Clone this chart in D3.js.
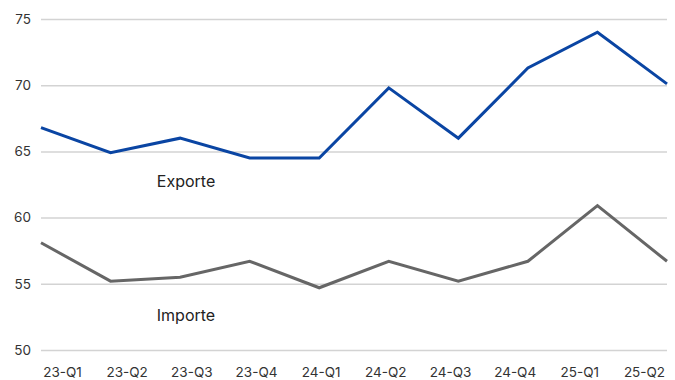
<!DOCTYPE html>
<html><head><meta charset="utf-8">
<script src="https://cdn.jsdelivr.net/npm/d3@7"></script>
<style>body{margin:0;background:#fff}svg{display:block;font-family:Inter, "Noto Sans", sans-serif}</style>
</head><body>
<svg id="c" width="675" height="380"></svg>
<script>
const categories = ["23-Q1","23-Q2","23-Q3","23-Q4","24-Q1","24-Q2","24-Q3","24-Q4","25-Q1","25-Q2"];
const exporte = [66.8,64.9,66.0,64.5,64.5,69.8,66.0,71.3,74.0,70.1];
const importe = [58.1,55.2,55.5,56.7,54.7,56.7,55.2,56.7,60.9,56.7];
const yTicks = [50,55,60,65,70,75];

const svg = d3.select("#c");
const x = d3.scalePoint().domain(categories).range([41,667]).padding(0);
const xLab = d3.scalePoint().domain(categories).range([62,644]).padding(0);
const y = d3.scaleLinear().domain([50,75]).range([350,19]);

const yAxis = svg.append("g").attr("transform","translate(41,0)")
  .call(d3.axisLeft(y).tickValues(yTicks).tickSize(-626).tickPadding(10).tickFormat(d3.format("d")));
yAxis.select(".domain").remove();
yAxis.selectAll("line").attr("stroke","#d3d3d3").attr("stroke-width",1.5);
yAxis.selectAll("text").attr("fill","#333").attr("font-size",13.5).attr("font-family","Inter, sans-serif");

const xAxis = svg.append("g").attr("transform","translate(0,350)")
  .call(d3.axisBottom(xLab).tickSize(0).tickPadding(17));
xAxis.select(".domain").remove();
xAxis.selectAll("text").attr("fill","#333").attr("font-size",13.5).attr("font-family","Inter, sans-serif");

const line = d3.line().x((d,i)=>x(categories[i])).y(d=>y(d));
svg.append("path").datum(importe).attr("d",line).attr("fill","none").attr("stroke","#666").attr("stroke-width",3).attr("stroke-linejoin","miter");
svg.append("path").datum(exporte).attr("d",line).attr("fill","none").attr("stroke","#0a45a3").attr("stroke-width",3).attr("stroke-linejoin","miter");

svg.append("text").attr("x",186).attr("y",y(62.3)).attr("text-anchor","middle").attr("font-size",16).attr("fill","#222").text("Exporte");
svg.append("text").attr("x",186).attr("y",y(52.2)).attr("text-anchor","middle").attr("font-size",16).attr("fill","#222").text("Importe");
</script>
</body></html>
